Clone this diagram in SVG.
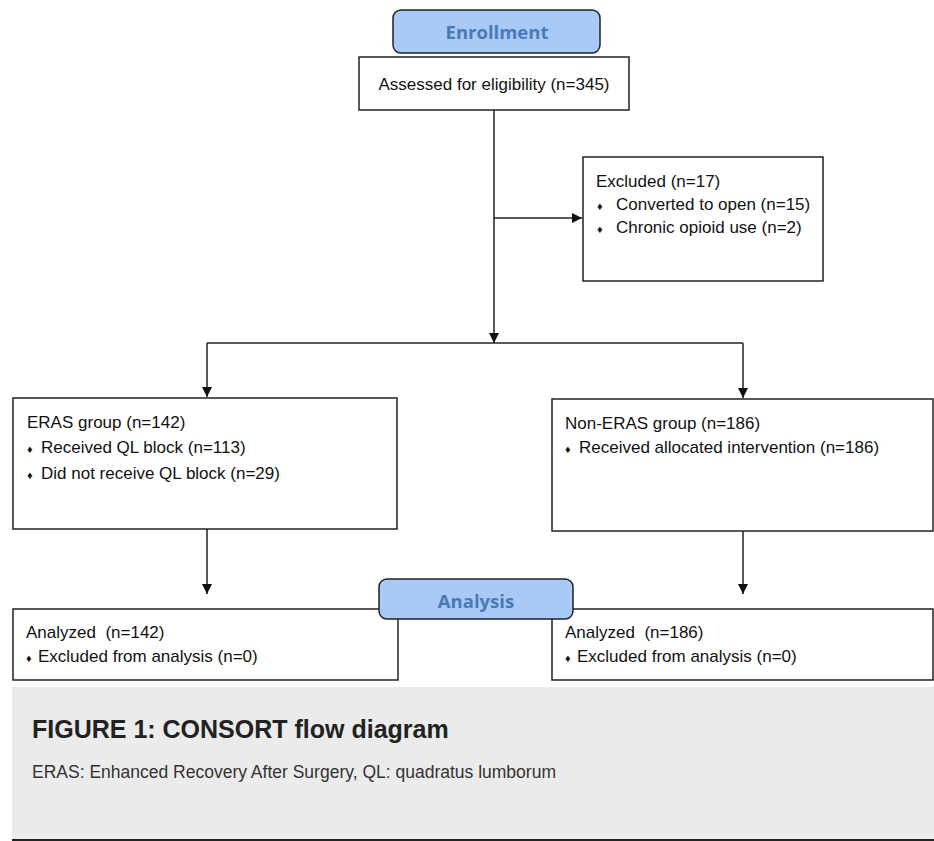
<svg xmlns="http://www.w3.org/2000/svg" width="934" height="841" viewBox="0 0 934 841">
<style>
.box{fill:#fff;stroke:#222;stroke-width:1.5}
.hdr{fill:#a9c9f7;stroke:#222;stroke-width:1.5}
.hdrt{font-family:"Open Sans","Liberation Sans",sans-serif;font-weight:bold;font-size:18.5px;fill:#4a7ab5;text-anchor:middle}
.t{font-family:"Liberation Sans",Arial,sans-serif;font-size:17px;fill:#111}
.b{font-size:11px}
.ln{fill:none;stroke:#222;stroke-width:1.5}
.cap{font-family:"Liberation Sans",Arial,sans-serif;font-weight:bold;font-size:25px;fill:#222}
.sub{font-family:"Liberation Sans",Arial,sans-serif;font-size:17.5px;fill:#333}
</style>
<defs>
<marker id="ah" viewBox="0 0 10 10" refX="10" refY="5" markerWidth="10" markerHeight="10" markerUnits="userSpaceOnUse" orient="auto">
<path d="M0,0 L10,5 L0,10 z" fill="#111"/>
</marker>
</defs>
<rect x="0" y="0" width="934" height="841" fill="#fff"/>
<g id="connectors">
<path class="ln" d="M494,110 V343" marker-end="url(#ah)"/>
<path class="ln" d="M494,218 H582" marker-end="url(#ah)"/>
<path class="ln" d="M207,343 H743"/>
<path class="ln" d="M207,343 V397" marker-end="url(#ah)"/>
<path class="ln" d="M743,343 V398" marker-end="url(#ah)"/>
<path class="ln" d="M207,529 V594" marker-end="url(#ah)"/>
<path class="ln" d="M743,531 V594" marker-end="url(#ah)"/>
</g>
<g id="assessed">
<rect class="box" x="359" y="57" width="270" height="53"/>
<text class="t" x="494" y="90" text-anchor="middle">Assessed for eligibility (n=345)</text>
</g>
<g id="enrollment">
<rect class="hdr" x="393" y="10" width="207" height="43" rx="8"/>
<text class="hdrt" x="497" y="39">Enrollment</text>
</g>
<g id="excluded">
<rect class="box" x="583" y="157" width="240" height="124"/>
<text class="t" x="596" y="187">Excluded (n=17)</text>
<text class="t" x="597" y="210"><tspan class="b">♦</tspan><tspan x="616">Converted to open (n=15)</tspan></text>
<text class="t" x="597" y="233"><tspan class="b">♦</tspan><tspan x="616">Chronic opioid use (n=2)</tspan></text>
</g>
<g id="eras">
<rect class="box" x="13" y="398" width="384" height="131"/>
<text class="t" x="27" y="428">ERAS group (n=142)</text>
<text class="t" x="27" y="453"><tspan class="b">♦</tspan><tspan x="41">Received QL block (n=113)</tspan></text>
<text class="t" x="27" y="479"><tspan class="b">♦</tspan><tspan x="41">Did not receive QL block (n=29)</tspan></text>
</g>
<g id="non-eras">
<rect class="box" x="552" y="399" width="381" height="132"/>
<text class="t" x="565" y="429">Non-ERAS group (n=186)</text>
<text class="t" x="565" y="453"><tspan class="b">♦</tspan><tspan x="579">Received allocated intervention (n=186)</tspan></text>
</g>
<g id="analyzed-eras">
<rect class="box" x="13" y="609" width="385" height="71"/>
<text class="t" x="26" y="638" xml:space="preserve">Analyzed  (n=142)</text>
<text class="t" x="26" y="662"><tspan class="b">♦</tspan><tspan x="38">Excluded from analysis (n=0)</tspan></text>
</g>
<g id="analyzed-non-eras">
<rect class="box" x="552" y="609" width="381" height="71"/>
<text class="t" x="565" y="638" xml:space="preserve">Analyzed  (n=186)</text>
<text class="t" x="565" y="662"><tspan class="b">♦</tspan><tspan x="577">Excluded from analysis (n=0)</tspan></text>
</g>
<g id="analysis">
<rect class="hdr" x="379" y="579" width="194" height="40" rx="8"/>
<text class="hdrt" x="476" y="608">Analysis</text>
</g>
<g id="caption">
<rect x="12" y="687" width="922" height="152" fill="#ebebeb"/>
<rect x="12" y="839" width="922" height="2" fill="#222"/>
<text class="cap" x="32" y="738">FIGURE 1: CONSORT flow diagram</text>
<text class="sub" x="32" y="778">ERAS: Enhanced Recovery After Surgery, QL: quadratus lumborum</text>
</g>
</svg>
